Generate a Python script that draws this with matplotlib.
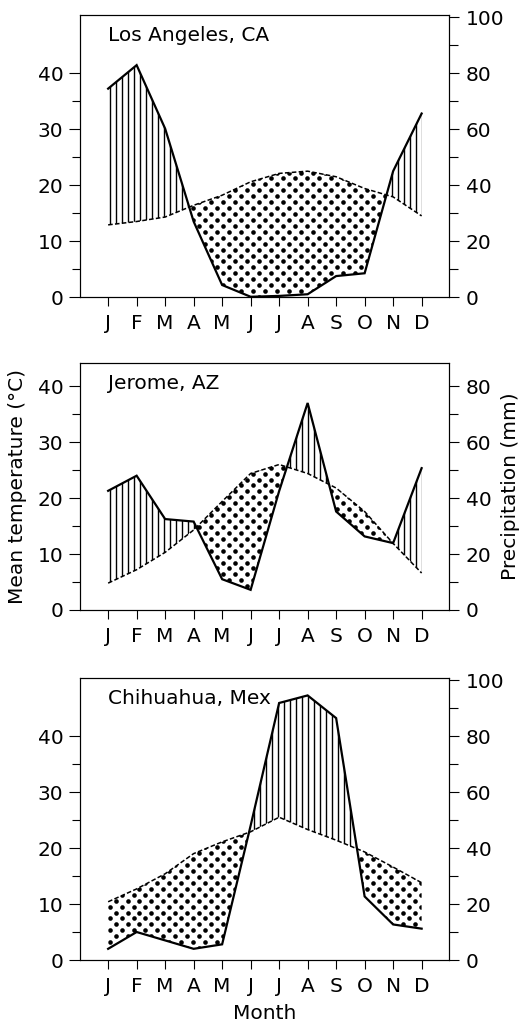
import numpy as np
import matplotlib.pyplot as plt
from matplotlib.path import Path

plt.rcParams['font.family'] = 'DejaVu Sans'
plt.rcParams['font.size'] = 14.5

months = ['J', 'F', 'M', 'A', 'M', 'J', 'J', 'A', 'S', 'O', 'N', 'D']

# Los Angeles, CA
la_temp = [12.9, 13.5, 14.3, 16.4, 18.2, 20.6, 22.1, 22.5, 21.5, 19.4, 17.9, 14.5]
la_precip = [74.5, 82.9, 60.2, 27.0, 4.3, 0.1, 0.4, 1.0, 7.5, 8.5, 45.0, 65.6]

# Jerome, AZ
jer_temp = [4.8, 7.2, 10.3, 14.3, 19.4, 24.4, 26.0, 24.4, 21.8, 17.6, 11.9, 6.6]
jer_precip = [42.6, 48.0, 32.5, 31.6, 11.0, 7.2, 42.5, 74.0, 35.2, 26.3, 23.9, 50.7]

# Chihuahua, Mex
chi_temp = [10.4, 12.7, 15.4, 19.0, 21.1, 22.9, 25.5, 23.3, 21.4, 19.3, 16.6, 13.8]
chi_precip = [4.0, 10.0, 7.0, 4.0, 5.6, 48.0, 91.8, 94.5, 86.4, 22.7, 12.7, 11.2]

fig = plt.figure(figsize=(5.19, 10.25), dpi=100)

# axes boxes in figure fraction (left, bottom, width, height)
boxes = [
    [0.1551, 0.7102, 0.7100, 0.2751],
    [0.1551, 0.4049, 0.7100, 0.2407],
    [0.1551, 0.0634, 0.7100, 0.2748],
]
tops = [100.8, 88.2, 100.6]   # precipitation axis top (mm)


def climate_panel(ax, temp, precip, top, name):
    x = np.arange(1, 13)
    t2 = 2 * np.array(temp)       # 10 degC = 20 mm
    p = np.array(precip)

    ax2 = ax.twinx()
    ax.set_xlim(0.03, 12.96)
    ax.set_ylim(0, top / 2)
    ax2.set_ylim(0, top)

    # wet season: vertical lines, dry season: dots
    wet = ax2.fill_between(x, p, t2, where=p >= t2, interpolate=True,
                           facecolor='none', edgecolor='none')
    dry = ax2.fill_between(x, p, t2, where=p <= t2, interpolate=True,
                           facecolor='none', edgecolor='none')
    wet_path = Path.make_compound_path(*wet.get_paths())
    dry_path = Path.make_compound_path(*dry.get_paths())

    xs = np.arange(0.0, 13.2, 0.211)
    vl = ax2.vlines(xs, 0, top, colors='black', lw=1.0)
    vl.set_clip_path(wet_path, ax2.transData)

    dx, dy = 0.42, 2.12
    px, py = [], []
    for i, yy in enumerate(np.arange(0, top, dy)):
        for xx in np.arange(0.0, 13.5, dx):
            px.append(xx + (i % 2) * dx / 2)
            py.append(yy)
    dots = ax2.scatter(px, py, s=11, color='black', linewidths=0)
    dots.set_clip_path(dry_path, ax2.transData)

    ax2.plot(x, p, color='black', lw=1.6, solid_joinstyle='miter')
    ax2.plot(x, t2, color='black', lw=1.1, ls=(0, (3, 1.5)))

    ax.set_xticks(x, months)
    ax.set_yticks([0, 10, 20, 30, 40])
    ax.set_yticks([5, 15, 25, 35], minor=True)
    ax2.set_yticks(np.arange(0, top, 20))
    ax2.set_yticks(np.arange(10, top, 20), minor=True)

    ax.tick_params(axis='x', length=6.8, width=0.8, pad=5.5)
    ax.tick_params(axis='y', which='major', length=7.7, width=0.8, pad=4.5)
    ax.tick_params(axis='y', which='minor', length=6.0, width=0.8)
    ax2.tick_params(axis='y', which='major', length=7.5, width=0.8, pad=4.5)
    ax2.tick_params(axis='y', which='minor', length=6.5, width=0.8)
    for a in (ax, ax2):
        for s in a.spines.values():
            s.set_linewidth(0.8)

    ax.annotate(name, xy=(0, 1), xycoords='axes fraction',
                xytext=(28, -26), textcoords='offset pixels',
                ha='left', va='baseline')
    return ax2


ax1 = fig.add_axes(boxes[0])
climate_panel(ax1, la_temp, la_precip, tops[0], 'Los Angeles, CA')

ax2 = fig.add_axes(boxes[1])
ax2r = climate_panel(ax2, jer_temp, jer_precip, tops[1], 'Jerome, AZ')
ax2.set_ylabel('Mean temperature (°C)', labelpad=8)
ax2r.set_ylabel('Precipitation (mm)', labelpad=7)

ax3 = fig.add_axes(boxes[2])
climate_panel(ax3, chi_temp, chi_precip, tops[2], 'Chihuahua, Mex')
ax3.set_xlabel('Month', labelpad=6)

fig.savefig('out.png', dpi=100)
